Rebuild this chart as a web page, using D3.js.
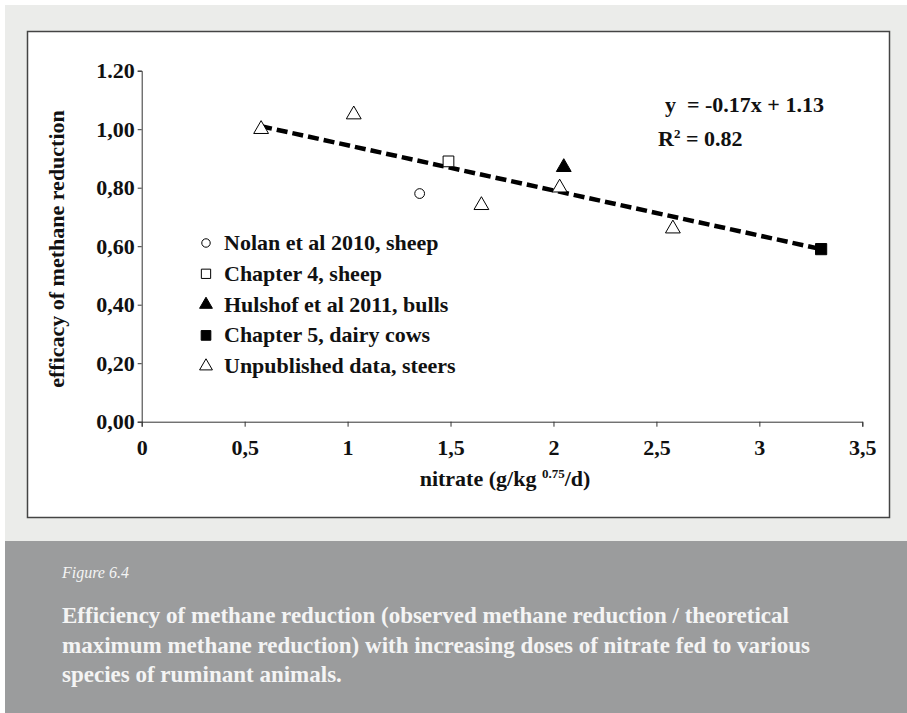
<!DOCTYPE html>
<html>
<head>
<meta charset="utf-8">
<script src="https://cdn.jsdelivr.net/npm/d3@7"></script>
<style>
  body { margin: 0; background: #fff; }
  svg text { font-family: "Liberation Serif", "DejaVu Serif", serif; }
</style>
</head>
<body>
<div id="chart"></div>
<script>
// series data
var seriesNames = ["Nolan et al 2010, sheep", "Chapter 4, sheep", "Hulshof et al 2011, bulls",
                   "Chapter 5, dairy cows", "Unpublished data, steers"];
var nolanX = [1.35], nolanY = [0.78];
var ch4X = [1.49], ch4Y = [0.89];
var hulshofX = [2.05], hulshofY = [0.87];
var ch5X = [3.30], ch5Y = [0.59];
var steersX = [0.58, 1.03, 1.65, 2.03, 2.58], steersY = [1.00, 1.05, 0.74, 0.80, 0.66];
var trendX = [0.58, 3.30], trendY = [1.01, 0.59];

var xTicks = [0, 0.5, 1, 1.5, 2, 2.5, 3, 3.5];
var xTickLabels = ["0", "0,5", "1", "1,5", "2", "2,5", "3", "3,5"];
var yTicks = [0, 0.2, 0.4, 0.6, 0.8, 1.0, 1.2];
var yTickLabels = ["0,00", "0,20", "0,40", "0,60", "0,80", "1,00", "1.20"];

var W = 907, H = 713;
var FS = 22;
var svg = d3.select("#chart").append("svg")
  .attr("width", W).attr("height", H);

// page background + chart frame + caption panel
svg.append("rect").attr("x", 5).attr("y", 5).attr("width", W - 5).attr("height", H - 5)
  .attr("fill", "#ebecea");
svg.append("rect").attr("x", 27.5).attr("y", 31.5).attr("width", 862).attr("height", 486)
  .attr("fill", "#fff").attr("stroke", "#444").attr("stroke-width", 1.5);
svg.append("rect").attr("x", 5).attr("y", 541).attr("width", W - 5).attr("height", H - 541)
  .attr("fill", "#9b9c9d");

var x = d3.scaleLinear().domain([0, 3.5]).range([141.7, 862.3]);
var y = d3.scaleLinear().domain([0, 1.2]).range([421.7, 70.7]);

// axes
var xAxis = svg.append("g").attr("transform", "translate(0," + y(0) + ")")
  .call(d3.axisBottom(x).tickValues(xTicks).tickSize(5).tickPadding(13)
    .tickFormat(function(d, i) { return xTickLabels[i]; }));
var yAxis = svg.append("g").attr("transform", "translate(" + x(0) + ",0)")
  .call(d3.axisLeft(y).tickValues(yTicks).tickSize(4).tickPadding(3)
    .tickFormat(function(d, i) { return yTickLabels[i]; }));

[xAxis, yAxis].forEach(function(a) {
  a.select(".domain").attr("stroke", "#333");
  a.selectAll(".tick line").attr("stroke", "#333");
  a.selectAll("text").attr("font-size", FS).attr("font-weight", "bold")
    .attr("fill", "#111").attr("font-family", "Liberation Serif, serif");
});

// axis titles
svg.append("text")
  .attr("transform", "translate(64,249) rotate(-90)")
  .attr("text-anchor", "middle")
  .attr("font-size", FS).attr("font-weight", "bold").attr("fill", "#111")
  .text("efficacy of methane reduction");

var xt = svg.append("text").attr("x", 505).attr("y", 486)
  .attr("text-anchor", "middle")
  .attr("font-size", FS).attr("font-weight", "bold").attr("fill", "#111");
xt.append("tspan").text("nitrate (g/kg ");
xt.append("tspan").attr("font-size", 13).attr("dy", -8).text("0.75");
xt.append("tspan").attr("dy", 8).text("/d)");

// trend line
svg.append("path")
  .datum(d3.range(trendX.length))
  .attr("d", d3.line().x(function(i) { return x(trendX[i]); }).y(function(i) { return y(trendY[i]); }))
  .attr("stroke", "#000").attr("stroke-width", 4.5).attr("stroke-dasharray", "11,5")
  .attr("fill", "none");

// markers
function sym(type, size) { return d3.symbol().type(type).size(size)(); }
var styles = [
  { type: d3.symbolCircle, size: 75, fill: "#fff" },
  { type: d3.symbolSquare, size: 115, fill: "#fff" },
  { type: d3.symbolTriangle, size: 95, fill: "#000" },
  { type: d3.symbolSquare, size: 125, fill: "#000" },
  { type: d3.symbolTriangle, size: 95, fill: "#fff" }
];
var seriesData = [[nolanX, nolanY], [ch4X, ch4Y], [hulshofX, hulshofY], [ch5X, ch5Y], [steersX, steersY]];

seriesData.forEach(function(s, k) {
  var st = styles[k];
  svg.append("g").selectAll("path")
    .data(d3.range(s[0].length))
    .enter().append("path")
    .attr("transform", function(i) { return "translate(" + x(s[0][i]) + "," + y(s[1][i]) + ")"; })
    .attr("d", sym(st.type, st.size))
    .attr("fill", st.fill).attr("stroke", "#000").attr("stroke-width", 1);
});

// legend
var legend = svg.append("g");
seriesNames.forEach(function(name, k) {
  var st = styles[k];
  var ly = 243 + k * 30.8;
  legend.append("path")
    .attr("transform", "translate(206," + ly + ")")
    .attr("d", sym(st.type, st.size * 0.75))
    .attr("fill", st.fill).attr("stroke", "#000").attr("stroke-width", 1);
  legend.append("text").attr("x", 224).attr("y", ly + 7)
    .attr("font-size", FS).attr("font-weight", "bold").attr("fill", "#111")
    .text(name);
});

// regression text
svg.append("text").attr("x", 665).attr("y", 112)
  .attr("font-size", FS).attr("font-weight", "bold").attr("fill", "#111")
  .attr("xml:space", "preserve")
  .text("y  = -0.17x + 1.13");
var r2 = svg.append("text").attr("x", 658).attr("y", 146)
  .attr("font-size", FS).attr("font-weight", "bold").attr("fill", "#111");
r2.append("tspan").text("R");
r2.append("tspan").attr("font-size", 13).attr("dy", -8).text("2");
r2.append("tspan").attr("dy", 8).text(" = 0.82");

// caption
var cap = svg.append("g");
cap.append("text").attr("x", 62).attr("y", 578)
  .attr("font-size", 16).attr("font-style", "italic").attr("fill", "#f4f4f4")
  .text("Figure 6.4");
var capLines = ["Efficiency of methane reduction (observed methane reduction / theoretical",
                "maximum methane reduction) with increasing doses of nitrate fed to various",
                "species of ruminant animals."];
capLines.forEach(function(l, i) {
  cap.append("text").attr("x", 62).attr("y", 623 + i * 29.5)
    .attr("font-size", 23).attr("font-weight", "bold").attr("fill", "#f4f4f4")
    .text(l);
});
</script>
</body>
</html>
